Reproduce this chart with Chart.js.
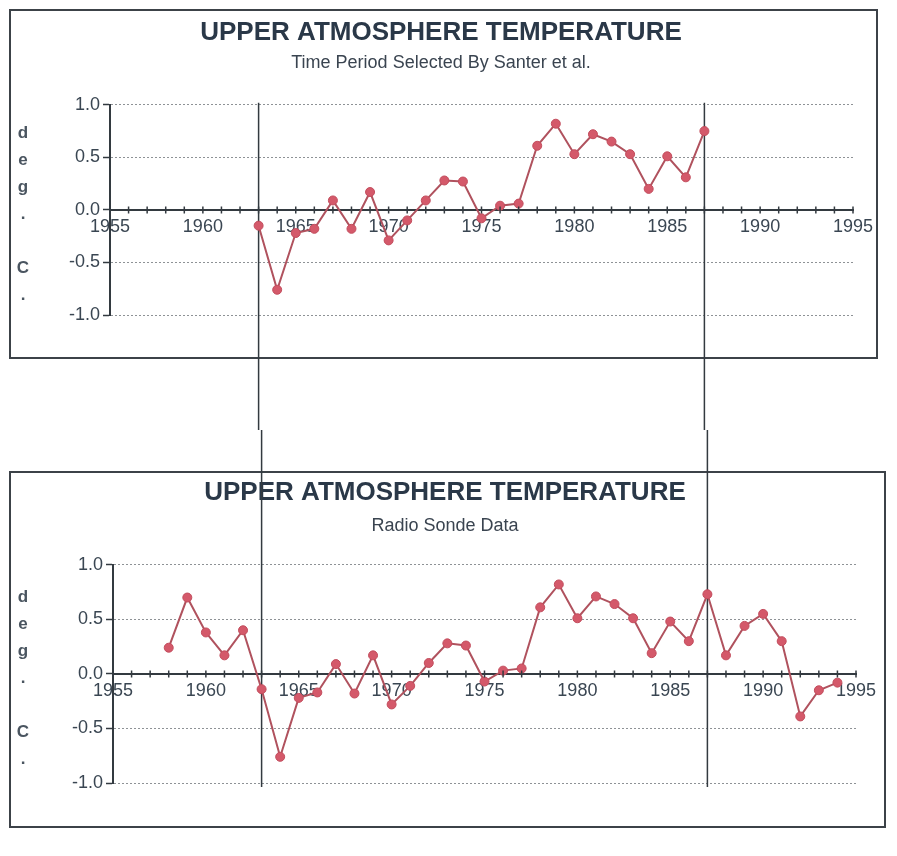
<!DOCTYPE html>
<html lang="en">
<head>
  <meta charset="UTF-8" />
  <title>Upper Atmosphere Temperature</title>
  <script src="https://cdn.jsdelivr.net/npm/chart.js"></script>
  <style>
    body {
      margin: 0;
      background: #fff;
    }

    .panel {
      position: relative;
      width: 897px;
    }

    #topPanel { height: 430px; }
    #bottomPanel { height: 426px; }
  </style>
</head>
<body>

  <div class="panel" id="topPanel"><canvas id="topChart"></canvas></div>
  <div class="panel" id="bottomPanel"><canvas id="bottomChart"></canvas></div>

  <script>
    // --- data ---
    const titleText = 'UPPER ATMOSPHERE TEMPERATURE';
    const topSubtitle = 'Time Period Selected By Santer et al.';
    const bottomSubtitle = 'Radio Sonde Data';
    const unitLetters = ['d', 'e', 'g', '.', '', 'C', '.'];

    const xLabelYears = [1955, 1960, 1965, 1970, 1975, 1980, 1985, 1990, 1995];
    const markerYears = [1963, 1987];

    const santerYears = [1963, 1964, 1965, 1966, 1967, 1968, 1969, 1970, 1971, 1972,
      1973, 1974, 1975, 1976, 1977, 1978, 1979, 1980, 1981, 1982,
      1983, 1984, 1985, 1986, 1987];
    const santerTemps = [-0.15, -0.76, -0.22, -0.18, 0.09, -0.18, 0.17, -0.29, -0.10, 0.09,
      0.28, 0.27, -0.08, 0.04, 0.06, 0.61, 0.82, 0.53, 0.72, 0.65,
      0.53, 0.20, 0.51, 0.31, 0.75];

    const sondeYears = [1958, 1959, 1960, 1961, 1962, 1963, 1964, 1965, 1966, 1967,
      1968, 1969, 1970, 1971, 1972, 1973, 1974, 1975, 1976, 1977,
      1978, 1979, 1980, 1981, 1982, 1983, 1984, 1985, 1986, 1987,
      1988, 1989, 1990, 1991, 1992, 1993, 1994];
    const sondeTemps = [0.24, 0.70, 0.38, 0.17, 0.40, -0.14, -0.76, -0.22, -0.17, 0.09,
      -0.18, 0.17, -0.28, -0.11, 0.10, 0.28, 0.26, -0.07, 0.03, 0.05,
      0.61, 0.82, 0.51, 0.71, 0.64, 0.51, 0.19, 0.48, 0.30, 0.73,
      0.17, 0.44, 0.55, 0.30, -0.39, -0.15, -0.08];

    Chart.defaults.font.family = "'Liberation Sans', Arial, sans-serif";

    const inkColor = '#333a40';
    const labelColor = '#3a4652';

    // frame around each chart panel
    const framePlugin = {
      id: 'frame',
      beforeDraw(chart, args, opts) {
        const ctx = chart.ctx;
        ctx.save();
        ctx.strokeStyle = '#3c4248';
        ctx.lineWidth = 2;
        ctx.strokeRect(opts.left, opts.top, opts.right - opts.left, opts.bottom - opts.top);
        ctx.restore();
      }
    };

    // "deg. C." written one letter per line left of the axis
    const unitPlugin = {
      id: 'unitLetters',
      afterDraw(chart) {
        const ctx = chart.ctx;
        const area = chart.chartArea;
        const step = 27;
        const mid = (area.top + area.bottom) / 2 + 4;
        const first = mid - step * (unitLetters.length - 1) / 2;
        ctx.save();
        ctx.fillStyle = '#4a5560';
        ctx.font = "bold 17px 'Liberation Sans', Arial, sans-serif";
        ctx.textAlign = 'center';
        ctx.textBaseline = 'middle';
        unitLetters.forEach((ch, i) => ctx.fillText(ch, 23, first + i * step));
        ctx.restore();
      }
    };

    // small crossing tick marks on the zero axis, one per year
    const crossTickPlugin = {
      id: 'crossTicks',
      afterDraw(chart) {
        const x = chart.scales.x;
        const y0 = chart.scales.y.getPixelForValue(0);
        const ctx = chart.ctx;
        ctx.save();
        ctx.strokeStyle = inkColor;
        ctx.lineWidth = 1.5;
        ctx.beginPath();
        x.ticks.forEach(t => {
          const px = x.getPixelForValue(t.value);
          ctx.moveTo(px, y0 - 3.5);
          ctx.lineTo(px, y0 + 3.5);
        });
        ctx.stroke();
        ctx.restore();
      }
    };

    // vertical marker lines that run through both panels
    const markerPlugin = {
      id: 'markers',
      beforeDatasetsDraw(chart, args, opts) {
        const x = chart.scales.x;
        const area = chart.chartArea;
        const ctx = chart.ctx;
        const top = opts.fromTop ? 0 : area.top - 2;
        const bottom = opts.fromTop ? area.bottom + 4 : chart.height;
        ctx.save();
        ctx.strokeStyle = inkColor;
        ctx.lineWidth = 1.5;
        ctx.beginPath();
        markerYears.forEach(yr => {
          const px = x.getPixelForValue(yr);
          ctx.moveTo(px, top);
          ctx.lineTo(px, bottom);
        });
        ctx.stroke();
        ctx.restore();
      }
    };

    function makeChart(id, years, temps, subtitle, geo) {
      const ctx = document.getElementById(id).getContext('2d');
      return new Chart(ctx, {
        type: 'line',
        data: {
          datasets: [{
            data: years.map((yr, i) => ({ x: yr, y: temps[i] })),
            borderColor: '#b0525e',
            borderWidth: 2,
            pointRadius: 4.5,
            pointBackgroundColor: '#d4596a',
            pointBorderColor: '#c24c5c',
            pointBorderWidth: 1,
            tension: 0
          }]
        },
        options: {
          responsive: true,
          maintainAspectRatio: false,
          animation: false,
          layout: {
            padding: { left: geo.padLeft, right: geo.padRight, top: 0, bottom: geo.padBottom }
          },
          plugins: {
            legend: { display: false },
            tooltip: { enabled: false },
            title: {
              display: true,
              text: titleText,
              color: '#2a3848',
              font: { size: 26, weight: 'bold' },
              padding: { top: geo.titleTop, bottom: 0 }
            },
            subtitle: {
              display: true,
              text: subtitle,
              color: '#3a4450',
              font: { size: 18 },
              padding: { top: geo.subTop, bottom: geo.subBottom }
            },
            frame: geo.frame,
            markers: { fromTop: geo.fromTop }
          },
          scales: {
            x: {
              type: 'linear',
              min: 1955,
              max: 1995,
              position: { y: 0 },
              grid: { drawOnChartArea: false, drawTicks: false },
              border: { color: inkColor, width: 2 },
              ticks: {
                stepSize: 1,
                autoSkip: false,
                maxRotation: 0,
                padding: 6,
                color: labelColor,
                font: { size: 18 },
                callback: v => xLabelYears.includes(v) ? String(v) : ''
              }
            },
            y: {
              min: -1,
              max: 1,
              afterFit: scale => { scale.width = geo.axisWidth; },
              grid: {
                color: c => c.tick && c.tick.value === 0 ? 'rgba(0,0,0,0)' : '#8e9296',
                lineWidth: 1,
                tickColor: inkColor,
                tickLength: 7,
                tickWidth: 1.5
              },
              border: { color: inkColor, width: 2, dash: [2, 2] },
              ticks: {
                stepSize: 0.5,
                padding: 3,
                color: labelColor,
                font: { size: 18 },
                callback: v => v.toFixed(1)
              }
            }
          }
        },
        plugins: [framePlugin, unitPlugin, crossTickPlugin, markerPlugin]
      });
    }

    makeChart('topChart', santerYears, santerTemps, topSubtitle, {
      padLeft: 29, axisWidth: 81, padRight: 44, padBottom: 115,
      titleTop: 17, subTop: 4, subBottom: 31,
      frame: { left: 10, top: 10, right: 877, bottom: 358 },
      fromTop: false
    });

    makeChart('bottomChart', sondeYears, sondeTemps, bottomSubtitle, {
      padLeft: 34, axisWidth: 79, padRight: 41, padBottom: 73,
      titleTop: 47, subTop: 7, subBottom: 28,
      frame: { left: 10, top: 42, right: 885, bottom: 397 },
      fromTop: true
    });
  </script>

</body>
</html>
